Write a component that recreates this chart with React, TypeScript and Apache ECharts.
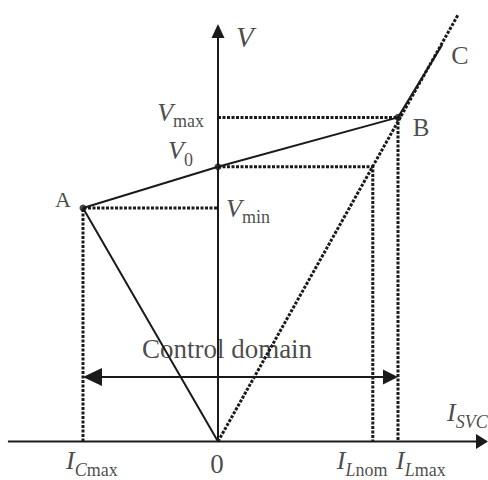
import React, { useEffect, useRef } from 'react';
import * as echarts from 'echarts';

// Currents (normalised to I_Lmax)
const I_CMAX = -0.75;
const I_LNOM = 0.86;
const I_LMAX = 1.0;
// Voltages (normalised to V0)
const V_MIN = 0.85;
const V_0 = 1.0;
const V_MAX = 1.18;
// End of the solid B–C branch and of the dotted inductor line
const C_END: [number, number] = [1.244, 1.443];
const L_END: [number, number] = [1.333, 1.553];
// Axis extents and control-domain arrow height
const X_START = -1.167;
const X_TIP = 1.5;
const Y_TIP = 1.52;
const CONTROL_Y = 0.235;

// Solid SVC characteristic: origin -> A -> V0 -> B -> C
const characteristic: [number, number][] = [[0, 0], [I_CMAX, V_MIN], [0, V_0], [I_LMAX, V_MAX], C_END];
// Dotted inductor line from the origin
const inductorLine: [number, number][] = [[0, 0], L_END];
// Dotted guide lines
const guideMin: [number, number][] = [[I_CMAX, 0], [I_CMAX, V_MIN], [0, V_MIN]];
const guideNom: [number, number][] = [[0, V_0], [I_LNOM, V_0], [I_LNOM, 0]];
const guideMax: [number, number][] = [[0, V_MAX], [I_LMAX, V_MAX], [I_LMAX, 0]];
// Marked points A, V0, B
const dots: [number, number][] = [[I_CMAX, V_MIN], [0, V_0], [I_LMAX, V_MAX]];
// Axis lines and control-domain line
const xAxisLine: [number, number][] = [[X_START, 0], [X_TIP - 0.03, 0]];
const yAxisLine: [number, number][] = [[0, 0], [0, Y_TIP - 0.03]];
const controlLine: [number, number][] = [[I_CMAX + 0.05, CONTROL_Y], [I_LMAX - 0.05, CONTROL_Y]];
// Arrow heads: tip x, tip y, direction (degrees)
const arrowHeads: [number, number, number][] = [
  [X_TIP, 0, 0],
  [0, Y_TIP, 90],
  [I_CMAX, CONTROL_Y, 180],
  [I_LMAX, CONTROL_Y, 0],
];
const ARROW_SIZES: [number, number][] = [[12, 15], [14, 13], [19, 18], [15, 15]];

const INK = '#1a1a1a';
const SERIF = '"Liberation Serif", "Times New Roman", serif';

const rich = {
  m: { fontFamily: SERIF, fontStyle: 'italic', fontSize: 26, color: INK, verticalAlign: 'middle', lineHeight: 22 },
  si: { fontFamily: SERIF, fontStyle: 'italic', fontSize: 18, color: INK, padding: [18, 0, 0, 0], verticalAlign: 'middle', lineHeight: 22 },
  s: { fontFamily: SERIF, fontSize: 18, color: INK, padding: [18, 0, 0, 0], verticalAlign: 'middle', lineHeight: 22 },
  ax: { fontFamily: SERIF, fontStyle: 'italic', fontSize: 29, color: INK, verticalAlign: 'middle', lineHeight: 24 },
  pa: { fontFamily: SERIF, fontSize: 22, color: INK, verticalAlign: 'middle', lineHeight: 20 },
  pb: { fontFamily: SERIF, fontSize: 25, color: INK, verticalAlign: 'middle', lineHeight: 22 },
  pc: { fontFamily: SERIF, fontSize: 26, color: INK, verticalAlign: 'middle', lineHeight: 22 },
  z: { fontFamily: SERIF, fontSize: 27, color: INK, verticalAlign: 'middle', lineHeight: 20 },
  cd: { fontFamily: SERIF, fontSize: 27, color: INK, verticalAlign: 'middle', lineHeight: 24 },
};

type Lbl = { at: [number, number]; text: string; align: string; off: [number, number] };
const labels: Lbl[] = [
  { at: [0, Y_TIP], text: '{ax|V}', align: 'left', off: [18, 13] },
  { at: [0, V_MAX], text: '{m|V}{s|max}', align: 'right', off: [-14, -5] },
  { at: [0, V_0], text: '{m|V}{s|0}', align: 'right', off: [-25, -16] },
  { at: [0, V_MIN], text: '{m|V}{s|min}', align: 'left', off: [8, 0] },
  { at: [I_CMAX, V_MIN], text: '{pa|A}', align: 'center', off: [-20, -9] },
  { at: [I_LMAX, V_MAX], text: '{pb|B}', align: 'center', off: [23, 10] },
  { at: C_END, text: '{pc|C}', align: 'center', off: [18, 10] },
  { at: [0, CONTROL_Y], text: '{cd|Control domain}', align: 'center', off: [9, -28] },
  { at: [I_CMAX, 0], text: '{m|I}{si|C}{s|max}', align: 'left', off: [-17, 19] },
  { at: [0, 0], text: '{z|0}', align: 'center', off: [-1, 22] },
  { at: [I_LNOM, 0], text: '{m|I}{si|L}{s|nom}', align: 'left', off: [-36, 19] },
  { at: [I_LMAX, 0], text: '{m|I}{si|L}{s|max}', align: 'left', off: [-2, 19] },
  { at: [X_TIP, 0], text: '{m|I}{si|SVC}', align: 'left', off: [-41, -29] },
];

const dotted = { color: INK, width: 3, type: [3, 1.5] as any };
const solid = { color: INK, width: 2 };

export default function App() {
  const ref = useRef<HTMLDivElement>(null);
  useEffect(() => {
    if (!ref.current) return;
    const chart = echarts.init(ref.current, undefined, { renderer: 'svg' });
    const lineSeries = (name: string, data: [number, number][], lineStyle: any, z = 2) => ({
      name, type: 'line', data, symbol: 'none', silent: true, z,
      lineStyle, emphasis: { disabled: true },
    });
    chart.setOption({
      animation: false,
      textStyle: { fontFamily: SERIF },
      grid: { left: 2, top: 2, width: 486, height: 478, outerBoundsMode: 'none' },
      xAxis: { type: 'value', min: -1.2, max: 1.5, show: false },
      yAxis: { type: 'value', min: -0.14, max: 1.6, show: false },
      tooltip: { show: false },
      series: [
        lineSeries('guideMin', guideMin, dotted),
        lineSeries('guideNom', guideNom, dotted),
        lineSeries('guideMax', guideMax, dotted),
        lineSeries('inductor', inductorLine, dotted),
        lineSeries('characteristic', characteristic, solid, 3),
        lineSeries('xAxis', xAxisLine, solid, 3),
        lineSeries('yAxis', yAxisLine, solid, 3),
        lineSeries('control', controlLine, solid, 3),
        {
          name: 'arrowHeads', type: 'custom', data: arrowHeads, silent: true, z: 4,
          encode: { x: 0, y: 1 },
          renderItem: (params: any, api: any) => {
            const tip = api.coord([api.value(0), api.value(1)]);
            const ang = (api.value(2) * Math.PI) / 180;
            const [len, br] = ARROW_SIZES[params.dataIndex];
            const ux = Math.cos(ang);
            const uy = -Math.sin(ang);
            const nx = -uy;
            const ny = ux;
            const bx = tip[0] - ux * len;
            const by = tip[1] - uy * len;
            return {
              type: 'polygon',
              shape: { points: [tip, [bx + (nx * br) / 2, by + (ny * br) / 2], [bx - (nx * br) / 2, by - (ny * br) / 2]] },
              style: { fill: INK },
            };
          },
        },
        {
          name: 'points', type: 'scatter', data: dots, symbol: 'circle', symbolSize: 7, z: 4,
          itemStyle: { color: INK }, silent: true,
        },
        {
          name: 'labels', type: 'scatter', z: 5, silent: true, symbolSize: 1,
          itemStyle: { color: 'transparent' },
          data: labels.map((l) => ({
            value: l.at,
            label: {
              show: true, position: 'inside', formatter: l.text, rich, lineHeight: 22,
              align: l.align, verticalAlign: 'middle', offset: l.off, color: INK,
            },
          })),
        },
      ],
    });
    return () => chart.dispose();
  }, []);
  return <div ref={ref} style={{ position: 'absolute', left: 0, top: 0, width: 488, height: 480 }} />;
}
